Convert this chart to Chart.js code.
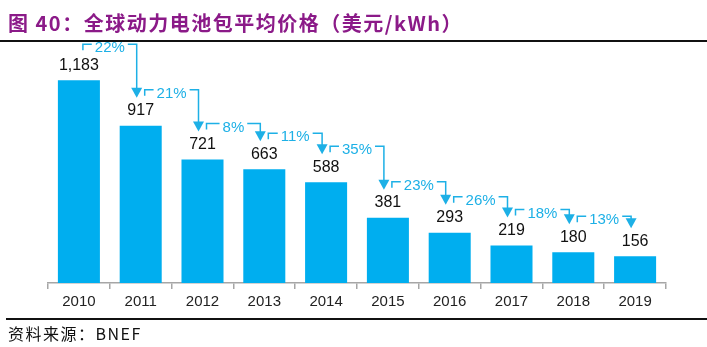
<!DOCTYPE html>
<html>
<head>
<meta charset="utf-8">
<script src="https://cdn.jsdelivr.net/npm/chart.js@4.4.0/dist/chart.umd.min.js"></script>
<style>
  html, body { margin: 0; padding: 0; background: #fff; }
  #wrap { position: relative; width: 707px; height: 347px; overflow: hidden; }
  #title { position: absolute; left: 8px; top: 10px; font: bold 20px "Noto Sans CJK SC", sans-serif; color: #8B1A88; white-space: nowrap; line-height: 26px; letter-spacing: 1.5px; }
  #topline { position: absolute; left: 0; top: 40px; width: 707px; height: 2px; background: #111; }
  #botline { position: absolute; left: 6px; top: 318px; width: 701px; height: 1.5px; background: #111; }
  #source { position: absolute; left: 8px; top: 321px; font: 16px "Noto Sans CJK SC", sans-serif; color: #111; letter-spacing: 1.5px; white-space: nowrap; }
  canvas { position: absolute; left: 0; top: 0; }
</style>
</head>
<body>
<div id="wrap">
  <canvas id="chart" width="707" height="347"></canvas>
  <div id="title">图 40：全球动力电池包平均价格（美元/kWh）</div>
  <div id="topline"></div>
  <div id="botline"></div>
  <div id="source">资料来源：BNEF</div>
</div>
<script>
const years = ['2010', '2011', '2012', '2013', '2014', '2015', '2016', '2017', '2018', '2019'];
const prices = [1183, 917, 721, 663, 588, 381, 293, 219, 180, 156];
const declines = ['22%', '21%', '8%', '11%', '35%', '23%', '26%', '18%', '13%'];

const barColor = '#00AEEF';
const noteColor = '#1DB0E6';

// value labels + the "⌐ xx% ¬↓" decline brackets
const labelsPlugin = {
    id: 'labels',
    afterDatasetsDraw(chart) {
        const ctx = chart.ctx;
        const bars = chart.getDatasetMeta(0).data;
        ctx.save();
        ctx.font = '16px "Liberation Sans", Arial, sans-serif';
        ctx.fillStyle = '#111';
        ctx.textAlign = 'center';
        ctx.textBaseline = 'middle';
        bars.forEach((b, i) => {
            ctx.fillText(prices[i].toLocaleString('en-US'), b.x, b.y - 15);
        });

        ctx.font = '15px "Liberation Sans", Arial, sans-serif';
        ctx.strokeStyle = noteColor;
        ctx.fillStyle = noteColor;
        ctx.lineWidth = 1.5;
        declines.forEach((txt, i) => {
            const a = bars[i], b = bars[i + 1];
            const y = a.y - 15 - 21;
            const x0 = a.x + 4;
            const x1 = b.x - 4;
            const tip = b.y - 15 - 13;
            const w = ctx.measureText(txt).width;
            const cx = (x0 + x1) / 2;
            ctx.beginPath();
            ctx.moveTo(x0, y + 6);
            ctx.lineTo(x0, y);
            ctx.lineTo(cx - w / 2 - 3, y);
            ctx.moveTo(cx + w / 2 + 3, y);
            ctx.lineTo(x1, y);
            ctx.lineTo(x1, tip - 9);
            ctx.stroke();
            ctx.beginPath();
            ctx.moveTo(x1 - 5.5, tip - 10);
            ctx.lineTo(x1 + 5.5, tip - 10);
            ctx.lineTo(x1, tip);
            ctx.closePath();
            ctx.fill();
            ctx.fillText(txt, cx, y + 4);
        });
        ctx.restore();
    }
};

new Chart(document.getElementById('chart'), {
    type: 'bar',
    data: {
        labels: years,
        datasets: [{ data: prices, backgroundColor: barColor, barPercentage: 0.68, categoryPercentage: 1 }]
    },
    options: {
        responsive: false,
        animation: false,
        layout: { padding: { left: 48, right: 41, top: 43, bottom: 29 } },
        plugins: { legend: { display: false }, tooltip: { enabled: false } },
        scales: {
            x: {
                offset: true,
                grid: { offset: true, drawOnChartArea: false, drawTicks: true, tickLength: 6, color: '#A6A6A6', lineWidth: 1.5 },
                border: { display: true, color: '#A6A6A6', width: 1.5 },
                ticks: { color: '#222', padding: 4, font: { size: 15, family: '"Liberation Sans", Arial, sans-serif' } },
                afterFit(scale) { scale.height = 35; }
            },
            y: { display: false, min: 0, max: 1400 }
        }
    },
    plugins: [labelsPlugin]
});
</script>
</body>
</html>
